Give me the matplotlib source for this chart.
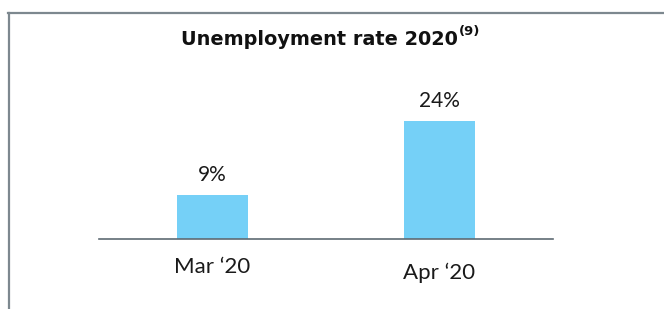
import matplotlib
matplotlib.use("Agg")
import matplotlib.pyplot as plt
from matplotlib.lines import Line2D

categories = ["Mar \u201820", "Apr \u201820"]
values = [9, 24]
value_labels = ["9%", "24%"]
title_main = "Unemployment rate 2020"
title_note = "(9)"

plt.rcParams['font.family'] = ['Lato', 'DejaVu Sans']

W, H = 664, 309
fig = plt.figure(figsize=(W / 100, H / 100), dpi=100)

# frame lines (top and left)
frame_col = "#7d888f"
fig.add_artist(Line2D([8 / W, 1.0], [1 - 13 / H, 1 - 13 / H], color=frame_col, lw=1.6,
                      transform=fig.transFigure))
fig.add_artist(Line2D([9 / W, 9 / W], [1 - 13 / H, 0.0], color=frame_col, lw=1.6,
                      transform=fig.transFigure))

ax = fig.add_axes([99 / W, (H - 239) / H, 454 / W, 219 / H])
x = list(range(len(categories)))
ax.bar(x, values, width=0.317, color="#75d0f7", zorder=1)
ax.set_xlim(-0.5, 1.5)
ax.set_ylim(0, 44.4)
for s in ["top", "right", "left"]:
    ax.spines[s].set_visible(False)
ax.spines["bottom"].set_color("#5f6b73")
ax.spines["bottom"].set_linewidth(1.2)
ax.spines["bottom"].set_zorder(3)
ax.set_yticks([])
ax.set_xticks([])

for xi, v, lab in zip(x, values, value_labels):
    ax.annotate(lab, (xi, v), xytext=(0, 10), textcoords="offset points",
                ha="center", va="baseline", fontsize=15, color="#1a1a1a")

cat_offsets = [-24.5, -28.5]
for xi, lab, off in zip(x, categories, cat_offsets):
    ax.annotate(lab, (xi, 0), xycoords=("data", "axes fraction"), xytext=(0, off),
                textcoords="offset points", ha="center", va="baseline",
                fontsize=16, color="#1a1a1a")

fig.text(458 / W, 1 - 45 / H, title_main, ha="right", va="baseline", fontsize=13.9,
         fontweight="bold", color="#111111", family="DejaVu Sans")
fig.text(459 / W, 1 - 35 / H, title_note, ha="left", va="baseline", fontsize=9.5,
         fontweight="bold", color="#111111", family="DejaVu Sans")

fig.savefig("out.png", dpi=100)
